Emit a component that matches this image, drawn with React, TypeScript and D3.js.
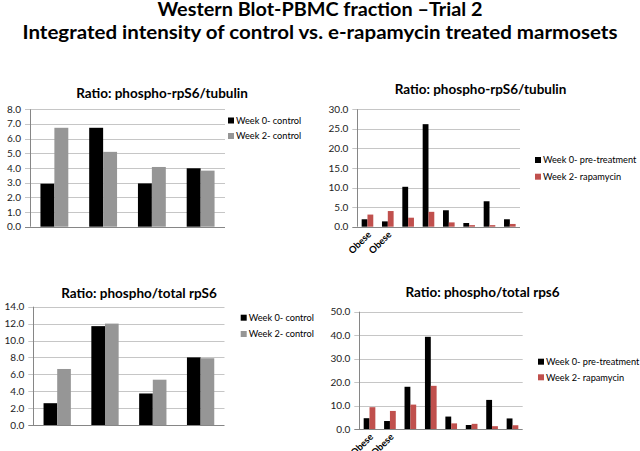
import React from "react";
import * as d3 from "d3";

const mainTitle1 = "Western Blot-PBMC fraction \u2013Trial 2";
const mainTitle2 = "Integrated intensity of control vs. e-rapamycin treated marmosets";

const controlCategories = ["", "", "", ""];
const treatedCategories = ["Obese", "Obese", "", "", "", "", "", ""];

const controlSeriesNames = ["Week 0- control", "Week 2- control"];
const treatedSeriesNames = ["Week 0- pre-treatment", "Week 2- rapamycin"];

const tlWeek0 = [2.93, 6.74, 2.95, 3.98];
const tlWeek2 = [6.74, 5.1, 4.07, 3.82];

const trWeek0 = [1.9, 1.36, 10.2, 26.2, 4.2, 0.94, 6.5, 1.9];
const trWeek2 = [3.1, 4.0, 2.3, 3.8, 1.1, 0.4, 0.4, 0.7];

const blWeek0 = [2.58, 11.7, 3.73, 8.0];
const blWeek2 = [6.63, 12.0, 5.36, 7.9];

const brWeek0 = [4.6, 3.4, 18.0, 39.3, 5.3, 1.7, 12.4, 4.5];
const brWeek2 = [9.3, 7.7, 10.4, 18.4, 2.4, 2.2, 1.2, 1.6];

const FONT = "Lato, 'Open Sans', sans-serif";
const BLACK = "#000000";
const GRAY = "#969696";
const RED = "#C0504D";

type ChartProps = {
  title: string;
  titleX: number;
  titleY: number;
  axisX: number;
  right: number;
  yTop: number;
  yBot: number;
  max: number;
  step: number;
  categories: string[];
  series: number[][];
  names: string[];
  colors: string[];
  legX: number;
  legY: number[];
};

function Chart(p: ChartProps) {
  const y = d3.scaleLinear().domain([0, p.max]).range([p.yBot, p.yTop]);
  const idx = p.categories.map((_, i) => String(i));
  const x = d3.scaleBand().domain(idx).range([p.axisX, p.right]).paddingInner(0).paddingOuter(0);
  const sub = d3
    .scaleBand()
    .domain(p.series.map((_, i) => String(i)))
    .range([0, x.bandwidth()])
    .paddingInner(0)
    .paddingOuter(0.75);
  const ticks = d3.range(0, p.max + p.step / 2, p.step);
  return (
    <g>
      <text x={p.titleX} y={p.titleY} textAnchor="middle" fontFamily={FONT} fontWeight="bold" fontSize={13.5} fill="#000">
        {p.title}
      </text>
      {ticks.map((t) => (
        <g key={t}>
          <line x1={p.axisX - 5} x2={p.right} y1={Math.round(y(t)) + 0.5} y2={Math.round(y(t)) + 0.5} stroke={t === 0 ? "#868686" : "#c6c6c6"} strokeWidth={1} />
          <text x={p.axisX - 9} y={y(t)} dy="0.35em" textAnchor="end" fontFamily={FONT} fontSize={10} fill="#222">
            {t.toFixed(1)}
          </text>
        </g>
      ))}
      <line x1={Math.round(p.axisX) + 0.5} x2={Math.round(p.axisX) + 0.5} y1={y(p.max)} y2={y(0)} stroke="#868686" strokeWidth={1} />
      {p.series.map((vals, si) =>
        vals.map((v, ci) => (
          <rect
            key={`${si}-${ci}`}
            x={(x(String(ci)) as number) + (sub(String(si)) as number)}
            width={sub.bandwidth()}
            y={y(v)}
            height={y(0) - y(v)}
            fill={p.colors[si]}
          />
        ))
      )}
      {p.categories.map((c, ci) =>
        c ? (
          <text
            key={ci}
            transform={`translate(${(x(String(ci)) as number) + x.bandwidth() / 2 + 2},${p.yBot + 6}) rotate(-45)`}
            textAnchor="end"
            dy="0.35em"
            fontFamily={FONT}
            fontWeight="bold"
            fontSize={9.5}
            fill="#000"
          >
            {c}
          </text>
        ) : null
      )}
      {p.names.map((n, i) => (
        <g key={n}>
          <rect x={p.legX} y={p.legY[i] - 3} width={6} height={6} fill={p.colors[i]} />
          <text x={p.legX + 8} y={p.legY[i]} dy="0.35em" fontFamily={FONT} fontSize={9.2} fill="#000">
            {n}
          </text>
        </g>
      ))}
    </g>
  );
}

export default function App() {
  return (
    <svg width={640} height={451} style={{ position: "absolute", left: 0, top: 0, background: "#fff" }}>
      <rect width={640} height={451} fill="#fff" />
      <text x={320} y={16} textAnchor="middle" fontFamily={FONT} fontWeight="bold" fontSize={19} textLength={325} lengthAdjust="spacingAndGlyphs">
        {mainTitle1}
      </text>
      <text x={320} y={39} textAnchor="middle" fontFamily={FONT} fontWeight="bold" fontSize={19} textLength={595} lengthAdjust="spacingAndGlyphs">
        {mainTitle2}
      </text>
      <Chart
        title="Ratio: phospho-rpS6/tubulin"
        titleX={162}
        titleY={98}
        axisX={30}
        right={225}
        yTop={109.3}
        yBot={226.7}
        max={8}
        step={1}
        categories={controlCategories}
        series={[tlWeek0, tlWeek2]}
        names={controlSeriesNames}
        colors={[BLACK, GRAY]}
        legX={228}
        legY={[120.5, 136]}
      />
      <Chart
        title="Ratio: phospho-rpS6/tubulin"
        titleX={480.5}
        titleY={94}
        axisX={357.3}
        right={520}
        yTop={109.3}
        yBot={226.7}
        max={30}
        step={5}
        categories={treatedCategories}
        series={[trWeek0, trWeek2]}
        names={treatedSeriesNames}
        colors={[BLACK, RED]}
        legX={535}
        legY={[160, 176.7]}
      />
      <Chart
        title="Ratio: phospho/total rpS6"
        titleX={139}
        titleY={298}
        axisX={33.3}
        right={224.5}
        yTop={306.7}
        yBot={425}
        max={14}
        step={2}
        categories={controlCategories}
        series={[blWeek0, blWeek2]}
        names={controlSeriesNames}
        colors={[BLACK, GRAY]}
        legX={240.7}
        legY={[317.7, 334]}
      />
      <Chart
        title="Ratio: phospho/total rps6"
        titleX={482.5}
        titleY={296.7}
        axisX={359.3}
        right={522.7}
        yTop={311.7}
        yBot={429}
        max={50}
        step={10}
        categories={treatedCategories}
        series={[brWeek0, brWeek2]}
        names={treatedSeriesNames}
        colors={[BLACK, RED]}
        legX={538}
        legY={[361.7, 377.3]}
      />
    </svg>
  );
}
